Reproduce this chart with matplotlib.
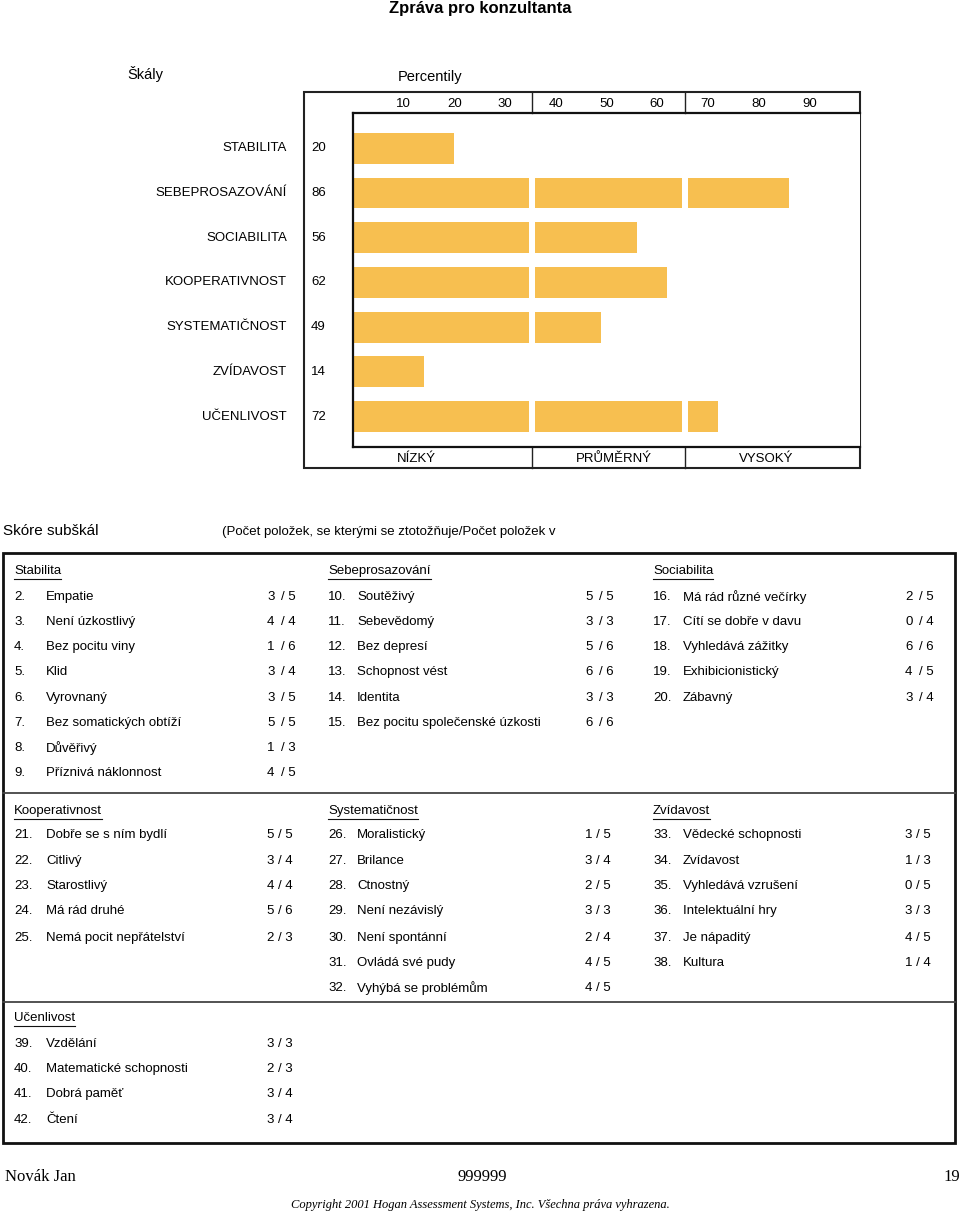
import matplotlib.pyplot as plt
from matplotlib.patches import Rectangle
from matplotlib.transforms import blended_transform_factory

plt.rcParams["font.family"] = ["Liberation Sans", "DejaVu Sans"]

# percentile chart
scales = ["STABILITA", "SEBEPROSAZOVÁNÍ", "SOCIABILITA", "KOOPERATIVNOST",
          "SYSTEMATIČNOST", "ZVÍDAVOST", "UČENLIVOST"]
percentiles = [20, 86, 56, 62, 49, 14, 72]
tick_values = [10, 20, 30, 40, 50, 60, 70, 80, 90]
band_names = ["NÍZKÝ", "PRŮMĚRNÝ", "VYSOKÝ"]

# subscale table: item names, agreed items, total items
stab_items = ["Empatie", "Není úzkostlivý", "Bez pocitu viny", "Klid", "Vyrovnaný",
              "Bez somatických obtíží", "Důvěřivý", "Příznivá náklonnost"]
stab_agree = [3, 4, 1, 3, 3, 5, 1, 4]
stab_total = [5, 4, 6, 4, 5, 5, 3, 5]

sebe_items = ["Soutěživý", "Sebevědomý", "Bez depresí", "Schopnost vést", "Identita",
              "Bez pocitu společenské úzkosti"]
sebe_agree = [5, 3, 5, 6, 3, 6]
sebe_total = [5, 3, 6, 6, 3, 6]

soci_items = ["Má rád různé večírky", "Cítí se dobře v davu", "Vyhledává zážitky",
              "Exhibicionistický", "Zábavný"]
soci_agree = [2, 0, 6, 4, 3]
soci_total = [5, 4, 6, 5, 4]

koop_items = ["Dobře se s ním bydlí", "Citlivý", "Starostlivý", "Má rád druhé",
              "Nemá pocit nepřátelství"]
koop_agree = [5, 3, 4, 5, 2]
koop_total = [5, 4, 4, 6, 3]

syst_items = ["Moralistický", "Brilance", "Ctnostný", "Není nezávislý", "Není spontánní",
              "Ovládá své pudy", "Vyhýbá se problémům"]
syst_agree = [1, 3, 2, 3, 2, 4, 4]
syst_total = [5, 4, 5, 3, 4, 5, 5]

zvid_items = ["Vědecké schopnosti", "Zvídavost", "Vyhledává vzrušení", "Intelektuální hry",
              "Je nápaditý", "Kultura"]
zvid_agree = [3, 1, 0, 3, 4, 1]
zvid_total = [5, 3, 5, 3, 5, 4]

ucen_items = ["Vzdělání", "Matematické schopnosti", "Dobrá paměť", "Čtení"]
ucen_agree = [3, 2, 3, 3]
ucen_total = [3, 3, 4, 4]

BAR = "#F7BF50"
FS = 9.5

fig = plt.figure(figsize=(9.6, 12.16), dpi=100)
page = fig.add_axes([0, 0, 1, 1])
page.set_xlim(0, 960)
page.set_ylim(1216, 0)
page.axis("off")

W, H = 960, 1216


def fig_rect(x0, y0, x1, y1):
    return [x0 / W, 1 - y1 / H, (x1 - x0) / W, (y1 - y0) / H]


# ---- titles
page.text(480, 9, "Zpráva pro konzultanta", ha="center", va="center",
          fontsize=12, fontweight="bold")
page.text(127, 74, "Škály", ha="left", va="center", fontsize=10.5)
page.text(398, 77, "Percentily", ha="left", va="center", fontsize=10.5)

# ---- percentile chart
page.add_patch(Rectangle((304, 92), 556, 376, fill=False, lw=1.5, ec="#222222"))
ax = fig.add_axes(fig_rect(353, 113, 860, 447))
rows = list(range(len(scales)))
bands = [(0, 34.7), (35.9, 64.9), (66.1, 100)]
for r, v in zip(rows, percentiles):
    for lo, hi in bands:
        if v > lo:
            ax.barh(r, min(v, hi) - lo, left=lo, height=0.69, color=BAR, lw=0)
ax.set_xlim(0, 100)
ax.set_ylim(6.68, -0.79)
ax.set_yticks([])
ax.set_xticks(tick_values, [str(t) for t in tick_values])
ax.xaxis.tick_top()
ax.tick_params(axis="x", length=0, pad=2, labelsize=FS)
for s in ax.spines.values():
    s.set_linewidth(1.6)
    s.set_color("#111111")
ax.spines["right"].set_visible(False)

xt = ax.get_xaxis_transform()
hdr = 21 / 334
for b in (35.3, 65.5):
    ax.plot([b, b], [1, 1 + hdr], color="#222222", lw=1, transform=xt, clip_on=False)
    ax.plot([b, b], [0, -hdr], color="#222222", lw=1, transform=xt, clip_on=False)

lab_tr = blended_transform_factory(page.transData, ax.transData)
for r, name, v in zip(rows, scales, percentiles):
    page.text(287, r, name, ha="right", va="center", fontsize=FS, transform=lab_tr)
    page.text(311, r, str(v), ha="left", va="center", fontsize=FS, transform=lab_tr)

for x, name in zip([416, 614, 766], band_names):
    page.text(x, 459, name, ha="center", va="center", fontsize=FS)

# ---- subscale table
page.text(3, 531, "Skóre subškál", ha="left", va="center", fontsize=11)
page.text(222, 532, "(Počet položek, se kterými se ztotožňuje/Počet položek v",
          ha="left", va="center", fontsize=FS)

page.add_patch(Rectangle((3, 553), 952, 590, fill=False, lw=2, ec="#111111"))
for y in (793, 1002):
    page.plot([3, 955], [y, y], color="#444444", lw=1.3)

cols = [(14, 46, 267), (328, 357, 585), (653, 683, 905)]
sec1_rows = [597, 622, 647, 672, 698, 723, 748, 773]
sec2_rows = [835, 861, 886, 911, 938, 963, 988]
sec3_rows = [1044, 1069, 1094, 1120]

headers = []


def draw_block(col, head, head_y, first, items, agree, total, ys, wide):
    xn, xi, xs = cols[col]
    headers.append(page.text(xn, head_y, head, ha="left", va="center", fontsize=FS))
    for k, (it, a, t) in enumerate(zip(items, agree, total)):
        y = ys[k]
        page.text(xn, y, f"{first + k}.", ha="left", va="center", fontsize=FS)
        page.text(xi, y, it, ha="left", va="center", fontsize=FS)
        if wide:
            page.text(xs, y, str(a), ha="left", va="center", fontsize=FS)
            page.text(xs + 14, y, f"/ {t}", ha="left", va="center", fontsize=FS)
        else:
            page.text(xs, y, f"{a} / {t}", ha="left", va="center", fontsize=FS)


draw_block(0, "Stabilita", 571, 2, stab_items, stab_agree, stab_total, sec1_rows, True)
draw_block(1, "Sebeprosazování", 571, 10, sebe_items, sebe_agree, sebe_total, sec1_rows, True)
draw_block(2, "Sociabilita", 571, 16, soci_items, soci_agree, soci_total, sec1_rows, True)
draw_block(0, "Kooperativnost", 811, 21, koop_items, koop_agree, koop_total, sec2_rows, False)
draw_block(1, "Systematičnost", 811, 26, syst_items, syst_agree, syst_total, sec2_rows, False)
draw_block(2, "Zvídavost", 811, 33, zvid_items, zvid_agree, zvid_total, sec2_rows, False)
draw_block(0, "Učenlivost", 1018, 39, ucen_items, ucen_agree, ucen_total, sec3_rows, False)

# underline the block headings
fig.canvas.draw()
renderer = fig.canvas.get_renderer()
inv = page.transData.inverted()
for t in headers:
    bb = t.get_window_extent(renderer)
    (x0, _), (x1, _) = inv.transform([(bb.x0, bb.y0), (bb.x1, bb.y0)])
    y = t.get_position()[1] + 7.5
    page.plot([x0, x1], [y, y], color="#111111", lw=0.8)

# ---- footer
serif = ["Liberation Serif", "DejaVu Serif"]
page.text(5, 1177, "Novák Jan", ha="left", va="center", fontsize=12, family=serif)
page.text(482, 1177, "999999", ha="center", va="center", fontsize=12, family=serif)
page.text(960, 1177, "19", ha="right", va="center", fontsize=12, family=serif)
page.text(480, 1205, "Copyright 2001 Hogan Assessment Systems, Inc. Všechna práva vyhrazena.",
          ha="center", va="center", fontsize=9, style="italic", family=serif)

fig.savefig("out.png", dpi=100)
